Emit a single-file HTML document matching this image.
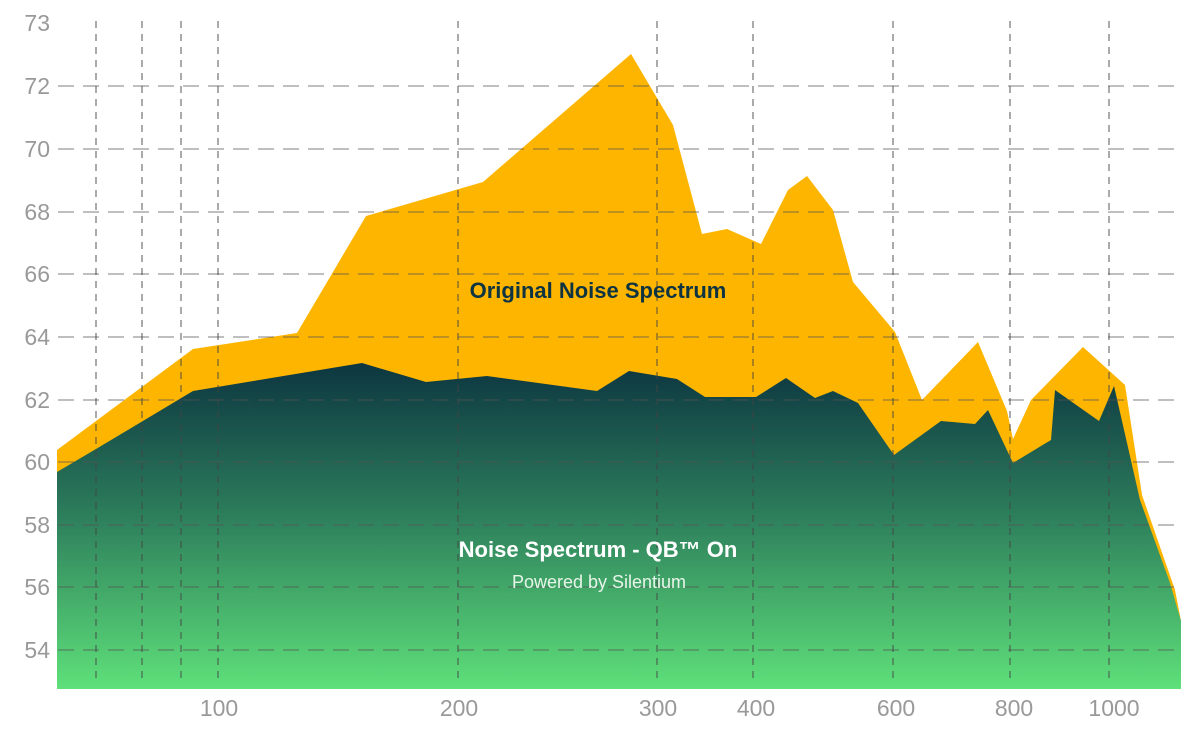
<!DOCTYPE html>
<html><head><meta charset="utf-8"><style>
html,body{margin:0;padding:0;background:#fff;}
svg{display:block;font-family:"Liberation Sans",sans-serif;}
</style></head><body>
<svg width="1200" height="749" viewBox="0 0 1200 749" xmlns="http://www.w3.org/2000/svg">
<defs>
<linearGradient id="g" x1="0" y1="360" x2="0" y2="689" gradientUnits="userSpaceOnUse">
<stop offset="0" stop-color="#0c3440"/>
<stop offset="0.45" stop-color="#2b7a5a"/>
<stop offset="1" stop-color="#5ee07a"/>
</linearGradient>
</defs>
<polygon fill="#fdb500" points="57,450 193,349 297,333 366,216 483,182 631,54 673,125 702,234 727,229 761,244 788,190 807,176 833,210 853,282 895,332 922,400 978,342 1007,411 1013,439 1031,400 1083,347 1125,385 1142,495 1175,590 1181,621 1181,689 57,689"/>
<polygon fill="url(#g)" points="57,472 96,449 193,391 362,363 426,382 487,376 597,391 629,371 677,379 705,397 756,397 786,378 815,398 833,391 858,403 894,455 941,421 975,424 988,410 1013,463 1051,440 1055,390 1099,421 1114,386 1140,500 1170,583 1181,621 1181,689 57,689"/>
<g stroke="#555" stroke-opacity="0.6" stroke-width="1.3" stroke-dasharray="16,9" fill="none">
<line x1="58" y1="86" x2="1174" y2="86"/>
<line x1="58" y1="149" x2="1174" y2="149"/>
<line x1="58" y1="212" x2="1174" y2="212"/>
<line x1="58" y1="274" x2="1174" y2="274"/>
<line x1="58" y1="337" x2="1174" y2="337"/>
<line x1="58" y1="400" x2="1174" y2="400"/>
<line x1="58" y1="462" x2="1174" y2="462"/>
<line x1="58" y1="525" x2="1174" y2="525"/>
<line x1="58" y1="587" x2="1174" y2="587"/>
<line x1="58" y1="650" x2="1174" y2="650"/>
</g>
<g stroke="#444" stroke-opacity="0.7" stroke-width="1.3" stroke-dasharray="7,6" fill="none">
<line x1="96" y1="21" x2="96" y2="684"/>
<line x1="142" y1="21" x2="142" y2="684"/>
<line x1="181" y1="21" x2="181" y2="684"/>
<line x1="218" y1="21" x2="218" y2="684"/>
<line x1="458" y1="21" x2="458" y2="684"/>
<line x1="657" y1="21" x2="657" y2="684"/>
<line x1="753" y1="21" x2="753" y2="684"/>
<line x1="893" y1="21" x2="893" y2="684"/>
<line x1="1010" y1="21" x2="1010" y2="684"/>
<line x1="1109" y1="21" x2="1109" y2="684"/>
</g>
<g fill="#999" font-size="23" text-anchor="end">
<text x="50" y="31">73</text>
<text x="50" y="94">72</text>
<text x="50" y="157">70</text>
<text x="50" y="220">68</text>
<text x="50" y="282">66</text>
<text x="50" y="345">64</text>
<text x="50" y="408">62</text>
<text x="50" y="470">60</text>
<text x="50" y="533">58</text>
<text x="50" y="595">56</text>
<text x="50" y="658">54</text>
</g>
<g fill="#999" font-size="23" text-anchor="middle">
<text x="219" y="716">100</text>
<text x="459" y="716">200</text>
<text x="658" y="716">300</text>
<text x="756" y="716">400</text>
<text x="896" y="716">600</text>
<text x="1014" y="716">800</text>
<text x="1114" y="716">1000</text>
</g>
<text x="598" y="298" text-anchor="middle" font-size="22" font-weight="bold" fill="#0d3440">Original Noise Spectrum</text>
<text x="598" y="557" text-anchor="middle" font-size="22" font-weight="bold" fill="#fff">Noise Spectrum - QB™ On</text>
<text x="599" y="588" text-anchor="middle" font-size="18" fill="#e8f5ea">Powered by Silentium</text>
</svg>
</body></html>
